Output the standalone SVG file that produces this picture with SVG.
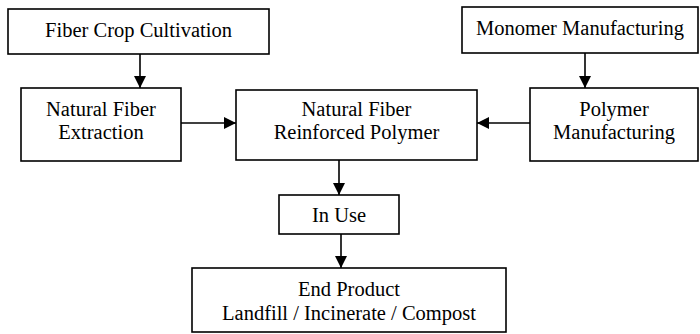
<svg xmlns="http://www.w3.org/2000/svg" width="700" height="334" viewBox="0 0 700 334">
  <style>
    .box { fill: #fff; stroke: #000; stroke-width: 1.6; }
    .lbl { font-family: "Liberation Serif", "Times New Roman", serif; font-size: 20.5px; fill: #000; text-anchor: middle; }
    .edge { stroke: #000; stroke-width: 1.6; fill: none; marker-end: url(#head); }
  </style>
  <defs>
    <marker id="head" viewBox="0 0 10 10" refX="10" refY="5" markerWidth="12" markerHeight="12" markerUnits="userSpaceOnUse" orient="auto">
      <path d="M0,0 L10,5 L0,10 Z" fill="#000"/>
    </marker>
  </defs>
  <rect width="700" height="334" fill="#fff"/>

  <g id="connectors">
    <line class="edge" x1="140" y1="54" x2="140" y2="88"/>
    <line class="edge" x1="585" y1="53" x2="585" y2="88"/>
    <line class="edge" x1="181" y1="123" x2="236" y2="123"/>
    <line class="edge" x1="530" y1="123" x2="477" y2="123"/>
    <line class="edge" x1="339" y1="160" x2="339" y2="195"/>
    <line class="edge" x1="341" y1="234" x2="341" y2="268"/>
  </g>

  <g id="fiber-crop">
    <rect class="box" x="8" y="9" width="261" height="45"/>
    <text class="lbl" x="138.5" y="37">Fiber Crop Cultivation</text>
  </g>
  <g id="monomer">
    <rect class="box" x="462" y="7" width="236" height="46"/>
    <text class="lbl" x="580" y="35">Monomer Manufacturing</text>
  </g>
  <g id="extraction">
    <rect class="box" x="21" y="88" width="160" height="73"/>
    <text class="lbl" x="101" y="116">Natural Fiber</text>
    <text class="lbl" x="101" y="139">Extraction</text>
  </g>
  <g id="nfrp">
    <rect class="box" x="236" y="90" width="241" height="70"/>
    <text class="lbl" x="356.5" y="116">Natural Fiber</text>
    <text class="lbl" x="356.5" y="139">Reinforced Polymer</text>
  </g>
  <g id="polymer">
    <rect class="box" x="530" y="88" width="168" height="73"/>
    <text class="lbl" x="614" y="116">Polymer</text>
    <text class="lbl" x="614" y="139">Manufacturing</text>
  </g>
  <g id="in-use">
    <rect class="box" x="279" y="195" width="120" height="39"/>
    <text class="lbl" x="339" y="222">In Use</text>
  </g>
  <g id="end-product">
    <rect class="box" x="192" y="268" width="314" height="64"/>
    <text class="lbl" x="349" y="296">End Product</text>
    <text class="lbl" x="349" y="320">Landfill / Incinerate / Compost</text>
  </g>
</svg>
